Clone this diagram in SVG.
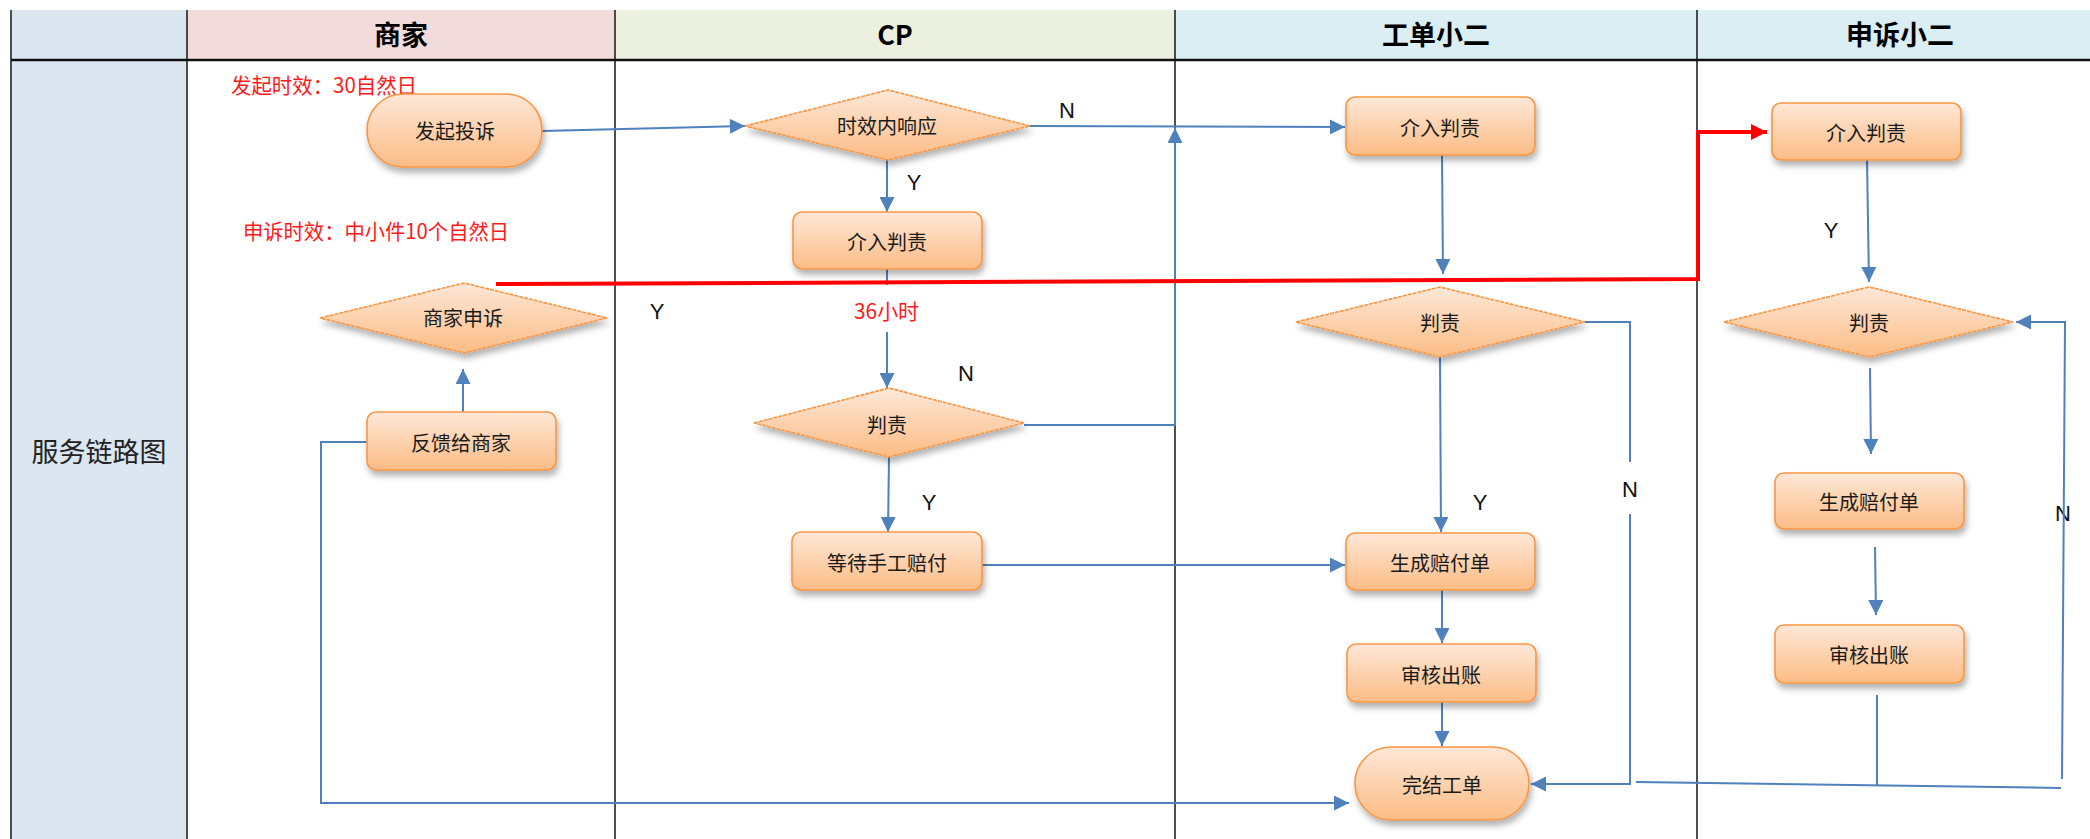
<svg xmlns="http://www.w3.org/2000/svg" width="2090" height="839" viewBox="0 0 2090 839">
<style>
.hdr{font-family:"Noto Sans CJK SC","Liberation Sans",sans-serif;font-size:27px;font-weight:bold;fill:#000;text-anchor:middle;dominant-baseline:central}
.nt{font-family:"Noto Sans CJK SC","Liberation Sans",sans-serif;font-size:20px;fill:#1a1a1a;text-anchor:middle;dominant-baseline:central}
.red{font-family:"Noto Sans CJK SC","Liberation Sans",sans-serif;font-size:21px;fill:#ff1a1a;dominant-baseline:central}
.yn{font-family:"Liberation Sans",sans-serif;font-size:22px;fill:#111;text-anchor:middle;dominant-baseline:central}
.box{fill:url(#og);stroke:#f79646;stroke-width:1.6;filter:url(#sh)}
.dia{fill:url(#og);stroke:#f79646;stroke-width:1.6;stroke-dasharray:4 1;filter:url(#sh)}
.c{fill:none;stroke:#4f81bd;stroke-width:2}
.ca{fill:none;stroke:#4f81bd;stroke-width:2;marker-end:url(#ab)}
.grid{stroke:#222;stroke-width:1.6}
</style>
<defs>
<linearGradient id="og" x1="0" y1="0" x2="0" y2="1">
<stop offset="0" stop-color="#fee8d8"/>
<stop offset="1" stop-color="#fcbc85"/>
</linearGradient>
<filter id="sh" x="-10%" y="-20%" width="130%" height="160%">
<feDropShadow dx="2" dy="5" stdDeviation="3" flood-color="#000" flood-opacity="0.3"/>
</filter>
<marker id="ab" viewBox="0 0 10 10" refX="10" refY="5" markerUnits="userSpaceOnUse" markerWidth="16" markerHeight="15" orient="auto">
<path d="M0,0 L10,5 L0,10 z" fill="#4f81bd"/>
</marker>
<marker id="ar" viewBox="0 0 10 10" refX="10" refY="5" markerUnits="userSpaceOnUse" markerWidth="16" markerHeight="17" orient="auto">
<path d="M0,0 L10,5 L0,10 z" fill="#ff0000"/>
</marker>
</defs>

<rect width="2090" height="839" fill="#fff"/>

<g id="table">
<rect x="11" y="10" width="176" height="829" fill="#dce6f1"/>
<rect x="187" y="10" width="428" height="50" fill="#f2dcdb"/>
<rect x="615" y="10" width="560" height="50" fill="#ebf1de"/>
<rect x="1175" y="10" width="915" height="50" fill="#daeef3"/>
<line class="grid" x1="11" y1="10" x2="11" y2="839"/>
<line class="grid" x1="187" y1="10" x2="187" y2="839"/>
<line class="grid" x1="615" y1="10" x2="615" y2="839"/>
<line class="grid" x1="1175" y1="10" x2="1175" y2="839"/>
<line class="grid" x1="1697" y1="10" x2="1697" y2="839" stroke="#444"/>
<line x1="11" y1="60" x2="2090" y2="60" stroke="#111" stroke-width="2.4"/>
<text class="hdr" x="401" y="33">商家</text>
<text class="hdr" x="895" y="33" font-family="Liberation Sans">CP</text>
<text class="hdr" x="1436" y="33">工单小二</text>
<text class="hdr" x="1900" y="33">申诉小二</text>
<text x="99" y="450" font-family="Noto Sans CJK SC, sans-serif" font-size="27" fill="#222" text-anchor="middle" dominant-baseline="central">服务链路图</text>
</g>

<g id="labels">
<text class="red" x="231" y="84" textLength="186" lengthAdjust="spacingAndGlyphs">发起时效：30自然日</text>
<text class="red" x="243" y="230" textLength="266" lengthAdjust="spacingAndGlyphs">申诉时效：中小件10个自然日</text>
<text class="red" x="854" y="310" textLength="65" lengthAdjust="spacingAndGlyphs">36小时</text>
<text class="yn" x="1067" y="110">N</text>
<text class="yn" x="914" y="182">Y</text>
<text class="yn" x="657" y="311">Y</text>
<text class="yn" x="966" y="373">N</text>
<text class="yn" x="929" y="502">Y</text>
<text class="yn" x="1480" y="502">Y</text>
<text class="yn" x="1630" y="489">N</text>
<text class="yn" x="1831" y="230">Y</text>
<text class="yn" x="2063" y="513">N</text>
</g>

<g id="connectors">
<path class="ca" d="M542,131 L745,126"/>
<path class="ca" d="M1030,126 L1345,127"/>
<path class="ca" d="M887,160 L887,212"/>
<path class="c" d="M887,269 L887,285"/>
<path class="ca" d="M887,332 L887,388"/>
<path class="ca" d="M1024,425 L1175,425 L1175,128"/>
<path class="ca" d="M889,457 L888,532"/>
<path class="ca" d="M982,565 L1345,565"/>
<path class="ca" d="M1442,155 L1443,274"/>
<path class="ca" d="M1440,357 L1441,532"/>
<path class="c" d="M1585,322 L1630,322 L1630,462"/>
<path class="ca" d="M1630,514 L1630,784 L1531,784"/>
<path class="ca" d="M1442,590 L1442,643"/>
<path class="ca" d="M1442,702 L1442,746"/>
<path class="ca" d="M463,412 L463,369"/>
<path class="ca" d="M367,442 L321,442 L321,803 L1349,803" stroke-width="2.4"/>
<path d="M496,284 L1698,279 L1698,132 L1767,132" fill="none" stroke="#ff0000" stroke-width="4" marker-end="url(#ar)"/>
<path class="ca" d="M1867,160 L1869,282"/>
<path class="ca" d="M1870,368 L1871,454"/>
<path class="ca" d="M1875,547 L1876,615"/>
<path class="c" d="M1877,695 L1877,785"/>
<path class="c" d="M1636,782 L2061,788" stroke-width="2.4"/>
<path class="ca" d="M2062,779 L2065,322 L2016,322"/>
</g>

<g id="n-faqitousu">
<rect class="box" x="367" y="94" width="175" height="73" rx="36"/>
<text class="nt" x="455" y="130">发起投诉</text>
</g>
<g id="n-shangjiashensu">
<polygon class="dia" points="320,318 464,283 607,318 464,353"/>
<text class="nt" x="463" y="317">商家申诉</text>
</g>
<g id="n-fankui">
<rect class="box" x="367" y="412" width="189" height="58" rx="9"/>
<text class="nt" x="461" y="442">反馈给商家</text>
</g>
<g id="n-shixiao">
<polygon class="dia" points="745,126 888,90 1030,126 888,160"/>
<text class="nt" x="887" y="125">时效内响应</text>
</g>
<g id="n-cp-jieru">
<rect class="box" x="793" y="212" width="189" height="57" rx="9"/>
<text class="nt" x="887" y="241">介入判责</text>
</g>
<g id="n-cp-panze">
<polygon class="dia" points="754,423 889,388 1024,423 889,457"/>
<text class="nt" x="887" y="424">判责</text>
</g>
<g id="n-dengdai">
<rect class="box" x="792" y="532" width="190" height="58" rx="9"/>
<text class="nt" x="887" y="562">等待手工赔付</text>
</g>
<g id="n-gd-jieru">
<rect class="box" x="1346" y="97" width="189" height="58" rx="9"/>
<text class="nt" x="1440" y="127">介入判责</text>
</g>
<g id="n-gd-panze">
<polygon class="dia" points="1296,322 1440,287 1585,322 1440,357"/>
<text class="nt" x="1440" y="322">判责</text>
</g>
<g id="n-gd-shengcheng">
<rect class="box" x="1346" y="533" width="189" height="57" rx="9"/>
<text class="nt" x="1440" y="562">生成赔付单</text>
</g>
<g id="n-gd-shenhe">
<rect class="box" x="1347" y="644" width="189" height="58" rx="9"/>
<text class="nt" x="1441" y="674">审核出账</text>
</g>
<g id="n-wanjie">
<rect class="box" x="1355" y="747" width="174" height="73" rx="36"/>
<text class="nt" x="1442" y="784">完结工单</text>
</g>
<g id="n-ss-jieru">
<rect class="box" x="1772" y="103" width="189" height="57" rx="9"/>
<text class="nt" x="1866" y="132">介入判责</text>
</g>
<g id="n-ss-panze">
<polygon class="dia" points="1724,322 1869,287 2013,322 1869,357"/>
<text class="nt" x="1869" y="322">判责</text>
</g>
<g id="n-ss-shengcheng">
<rect class="box" x="1775" y="473" width="189" height="56" rx="9"/>
<text class="nt" x="1869" y="501">生成赔付单</text>
</g>
<g id="n-ss-shenhe">
<rect class="box" x="1775" y="625" width="189" height="58" rx="9"/>
<text class="nt" x="1869" y="654">审核出账</text>
</g>
</svg>
